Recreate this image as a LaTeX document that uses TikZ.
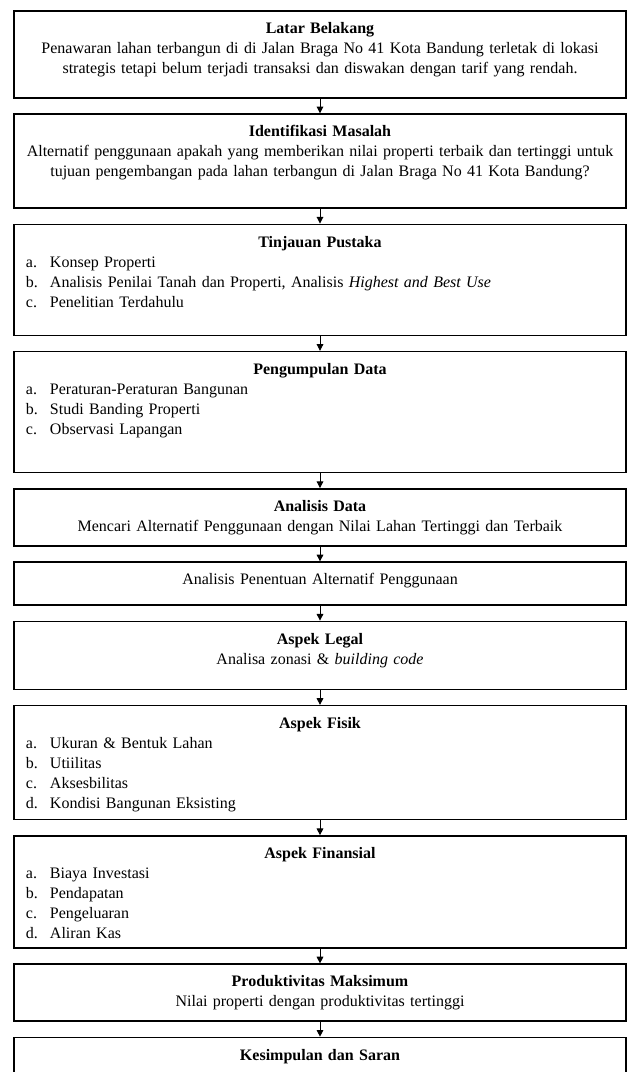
\documentclass[tikz,border=0pt]{standalone}
\usepackage{fontspec}
\setmainfont{Liberation Serif}
\usetikzlibrary{arrows.meta,positioning}

\newcommand{\butir}[2]{\makebox[\linewidth][l]{\hspace*{7pt}\makebox[18pt][l]{#1}#2}}

\begin{document}
\begin{tikzpicture}[
    x=0.75pt, y=-0.75pt,
    node distance=11pt,
    blok/.style={draw, line width=1.2pt, align=center, text width=455pt,
                 inner xsep=2pt, inner ysep=5pt, text height=12pt,
                 font=\fontsize{12pt}{15pt}\selectfont},
    panah/.style={-{Triangle[length=5pt,width=5pt]}, line width=0.7pt}]
  \useasboundingbox (0,0) rectangle (629,1072);
  \node[blok, anchor=north, text depth=43.25pt] (latar) at (320,10)
    {\textbf{Latar Belakang}\\
     Penawaran lahan terbangun di di Jalan Braga No 41 Kota Bandung terletak di lokasi\\
     strategis tetapi belum terjadi transaksi dan diswakan dengan tarif yang rendah.};
  \node[blok, below=of latar, text depth=48.5pt] (identifikasi)
    {\textbf{Identifikasi Masalah}\\
     Alternatif penggunaan apakah yang memberikan nilai properti terbaik dan tertinggi untuk\\
     tujuan pengembangan pada lahan terbangun di Jalan Braga No 41 Kota Bandung?};
  \node[blok, below=of identifikasi, text depth=61.25pt] (tinjauan)
    {\textbf{Tinjauan Pustaka}\\
     \butir{a.}{Konsep Properti}\\
     \butir{b.}{Analisis Penilai Tanah dan Properti, Analisis \textit{Highest and Best Use}}\\
     \butir{c.}{Penelitian Terdahulu}};
  \node[blok, below=of tinjauan, text depth=68.75pt] (pengumpulan)
    {\textbf{Pengumpulan Data}\\
     \butir{a.}{Peraturan-Peraturan Bangunan}\\
     \butir{b.}{Studi Banding Properti}\\
     \butir{c.}{Observasi Lapangan}};
  \node[blok, below=of pengumpulan, text depth=20.75pt] (analisis)
    {\textbf{Analisis Data}\\
     Mencari Alternatif Penggunaan dengan Nilai Lahan Tertinggi dan Terbaik};
  \node[blok, below=of analisis, text depth=10.25pt] (penentuan)
    {Analisis Penentuan Alternatif Penggunaan};
  \node[blok, below=of penentuan, text depth=29pt] (legal)
    {\textbf{Aspek Legal}\\
     Analisa zonasi \& \textit{building code}};
  \node[blok, below=of legal, text depth=63.5pt] (fisik)
    {\textbf{Aspek Fisik}\\
     \butir{a.}{Ukuran \& Bentuk Lahan}\\
     \butir{b.}{Utiilitas}\\
     \butir{c.}{Aksesbilitas}\\
     \butir{d.}{Kondisi Bangunan Eksisting}};
  \node[blok, below=of fisik, text depth=62pt] (finansial)
    {\textbf{Aspek Finansial}\\
     \butir{a.}{Biaya Investasi}\\
     \butir{b.}{Pendapatan}\\
     \butir{c.}{Pengeluaran}\\
     \butir{d.}{Aliran Kas}};
  \node[blok, below=of finansial, text depth=20.75pt] (produktivitas)
    {\textbf{Produktivitas Maksimum}\\
     Nilai properti dengan produktivitas tertinggi};
  \node[blok, below=of produktivitas, text depth=40pt] (kesimpulan)
    {\textbf{Kesimpulan dan Saran}};
  % panah antar tahap
  \foreach \a/\b in {latar/identifikasi, identifikasi/tinjauan,
      tinjauan/pengumpulan, pengumpulan/analisis, analisis/penentuan,
      penentuan/legal, legal/fisik, fisik/finansial,
      finansial/produktivitas, produktivitas/kesimpulan}
    \draw[panah] (\a) -- (\b);
\end{tikzpicture}
\end{document}
